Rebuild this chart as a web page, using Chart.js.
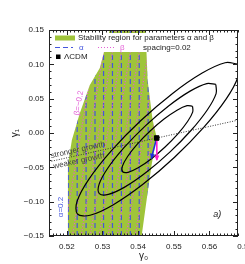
<!DOCTYPE html>
<html>
<head>
<meta charset="utf-8">
<script src="https://cdn.jsdelivr.net/npm/chart.js@4.4.1/dist/chart.umd.min.js"></script>
<style>
  html, body { margin: 0; padding: 0; background: #fff; }
  canvas { display: block; }
</style>
</head>
<body>
<canvas id="chart" width="245" height="264"></canvas>
<script>
// axis ticks
const xTicks = [0.52, 0.53, 0.54, 0.55, 0.56, 0.57];
const yTicks = [-0.15, -0.10, -0.05, 0.00, 0.05, 0.10, 0.15];

// stability region (gamma0, gamma1 outline)
const regionX = [0.53204, 0.54209, 0.54265, 0.54405, 0.54517, 0.54377, 0.54237, 0.54098, 0.52031, 0.52031, 0.52142, 0.52366, 0.52645, 0.52925];
const regionY = [0.15, 0.15, 0.07719, 0.01894, -0.00582, -0.04659, -0.09756, -0.15, -0.15, -0.04659, -0.01019, 0.02913, 0.06991, 0.09466];

// constant-alpha lines (vertical) and constant-beta lines (slanted)
const alphaX = [0.5204, 0.5229, 0.5254, 0.5279, 0.5303, 0.5328, 0.5353, 0.5378, 0.5403, 0.5428, 0.5452];
const betaBottomX = [0.51654, 0.51905, 0.52156, 0.52402, 0.52654, 0.52905, 0.53156, 0.53413, 0.53665, 0.53916, 0.54168];
const betaTopX = [0.52632, 0.52883, 0.53134, 0.53380, 0.53632, 0.53883, 0.54134, 0.54391, 0.54643, 0.54894, 0.55146];
const lineEndsY = [-0.15, 0.15];

// confidence contours
const c1X = [0.55525, 0.55531, 0.55386, 0.55114, 0.54755, 0.54364, 0.54000, 0.53719, 0.53565, 0.53559, 0.53704, 0.53976, 0.54336, 0.54726, 0.55090, 0.55371, 0.55525];
const c1Y = [0.03895, 0.03084, 0.01671, -0.00130, -0.02044, -0.03780, -0.05073, -0.05726, -0.05641, -0.04830, -0.03417, -0.01616, 0.00298, 0.02034, 0.03327, 0.03980, 0.03895];
const c2X = [0.56179, 0.56186, 0.55943, 0.55487, 0.54888, 0.54237, 0.53633, 0.53166, 0.52911, 0.52904, 0.53147, 0.53603, 0.54202, 0.54853, 0.55457, 0.55924, 0.56179];
const c2Y = [0.07072, 0.05734, 0.03390, 0.00398, -0.02789, -0.05684, -0.07846, -0.08946, -0.08818, -0.07480, -0.05136, -0.02144, 0.01043, 0.03938, 0.06100, 0.07200, 0.07072];
const c3X = [0.56791, 0.56802, 0.56470, 0.55845, 0.55021, 0.54125, 0.53294, 0.52652, 0.52299, 0.52288, 0.52620, 0.53245, 0.54069, 0.54965, 0.55796, 0.56438, 0.56791];
const c3Y = [0.10049, 0.08200, 0.04968, 0.00849, -0.03534, -0.07511, -0.10478, -0.11982, -0.11795, -0.09946, -0.06714, -0.02595, 0.01788, 0.05765, 0.08732, 0.10236, 0.10049];

// growth divide, LCDM point and shift arrows
const growthX = [0.515, 0.568];
const growthY = [-0.0419, 0.0187];
const lcdmX = [0.5452];
const lcdmY = [-0.0073];
const arrowAlphaX = [0.5452, 0.5437];
const arrowAlphaY = [-0.0073, -0.0368];
const arrowBetaX = [0.5452, 0.54525];
const arrowBetaY = [-0.0073, -0.0393];

const COLORS = {
  green: '#9fc43a',
  alpha: '#4455dd',
  beta: '#e35fd6',
  arrowAlpha: '#1f2fe0',
  arrowBeta: '#ff22cc',
  text: '#222'
};
const FONT = '"Liberation Sans", "DejaVu Sans", sans-serif';

const pts = (xs, ys) => xs.map((x, i) => ({ x, y: ys[i] }));
const line = (xs, ys, extra) => Object.assign({
  data: pts(xs, ys), showLine: true, pointRadius: 0, fill: false, borderWidth: 1
}, extra);

const datasets = [];
datasets.push(line(regionX, regionY, { fill: 'shape', backgroundColor: COLORS.green, borderWidth: 0, order: 30 }));
alphaX.forEach(x => datasets.push(line([x, x], lineEndsY, {
  borderColor: COLORS.alpha, borderWidth: 1.2, borderDash: [5, 3], clipRegion: true, order: 28
})));
betaBottomX.forEach((x, i) => datasets.push(line([x, betaTopX[i]], lineEndsY, {
  borderColor: COLORS.beta, borderWidth: 1.2, borderDash: [1.2, 1.8], clipRegion: true, order: 27
})));
[[c1X, c1Y], [c2X, c2Y], [c3X, c3Y]].forEach(([xs, ys]) => datasets.push(line(xs, ys, {
  borderColor: '#000', borderWidth: 1.2, tension: 0.35, order: 10
})));
datasets.push(line(growthX, growthY, { borderColor: '#333', borderWidth: 1, borderDash: [1, 1.5], order: 8 }));
datasets.push(line(arrowAlphaX, arrowAlphaY, { borderColor: COLORS.arrowAlpha, borderWidth: 1.5, arrow: true, order: 4 }));
datasets.push(line(arrowBetaX, arrowBetaY, { borderColor: COLORS.arrowBeta, borderWidth: 1.5, arrow: true, order: 3 }));
datasets.push({ data: pts(lcdmX, lcdmY), pointStyle: 'rect', pointRadius: 3.2, backgroundColor: '#000', borderColor: '#000', order: 1 });

// clip alpha/beta lines to the green region, add arrow heads
const regionClip = {
  id: 'regionClip',
  beforeDatasetDraw(chart, args) {
    const ds = chart.data.datasets[args.index];
    if (!ds.clipRegion) return;
    const poly = chart.getDatasetMeta(0).data;
    const ctx = chart.ctx;
    ctx.save();
    ctx.beginPath();
    poly.forEach((p, i) => i ? ctx.lineTo(p.x, p.y) : ctx.moveTo(p.x, p.y));
    ctx.closePath();
    ctx.clip();
  },
  afterDatasetDraw(chart, args) {
    const ds = chart.data.datasets[args.index];
    if (ds.clipRegion) chart.ctx.restore();
    if (ds.arrow) {
      const m = chart.getDatasetMeta(args.index).data;
      const a = m[m.length - 2], b = m[m.length - 1];
      const ang = Math.atan2(b.y - a.y, b.x - a.x);
      const ctx = chart.ctx;
      ctx.save();
      ctx.fillStyle = ds.borderColor;
      ctx.translate(b.x, b.y);
      ctx.rotate(ang);
      ctx.beginPath();
      ctx.moveTo(1, 0);
      ctx.lineTo(-4.5, -2.5);
      ctx.lineTo(-4.5, 2.5);
      ctx.closePath();
      ctx.fill();
      ctx.restore();
    }
  }
};

// text labels in the plot
const notes = {
  id: 'notes',
  afterDatasetsDraw(chart) {
    const { ctx, scales: { x, y } } = chart;
    const put = (txt, gx, gy, rot, color, font) => {
      ctx.save();
      ctx.translate(x.getPixelForValue(gx), y.getPixelForValue(gy));
      ctx.rotate(rot * Math.PI / 180);
      ctx.fillStyle = color;
      ctx.font = font;
      ctx.textAlign = 'center';
      ctx.textBaseline = 'middle';
      ctx.fillText(txt, 0, 0);
      ctx.restore();
    };
    put('α=0.2', 0.51835, -0.1078, -90, COLORS.alpha, '8px ' + FONT);
    put('β=−0.2', 0.5234, 0.0437, -80, COLORS.beta, '8px ' + FONT);
    put('stronger growth', 0.5231, -0.0248, -12.4, '#444', '8px ' + FONT);
    put('weaker growth', 0.5234, -0.0408, -12.4, '#444', '8px ' + FONT);
    put('a)', 0.5622, -0.118, 0, COLORS.text, 'italic 9px ' + FONT);
  }
};

// legend box in the upper left
const legendBox = {
  id: 'legendBox',
  afterDatasetsDraw(chart) {
    const { ctx, chartArea: a } = chart;
    const L = a.left, T = a.top;
    ctx.save();
    ctx.fillStyle = '#fff';
    ctx.fillRect(L + 1, T + 3, 186, 19);
    ctx.font = '8px ' + FONT;
    ctx.textBaseline = 'middle';
    ctx.fillStyle = COLORS.green;
    ctx.fillRect(L + 6, T + 5.5, 20, 5);
    ctx.fillStyle = COLORS.text;
    ctx.fillText('Stability region for parameters α and β', L + 29, T + 8);
    ctx.lineWidth = 1.2;
    ctx.strokeStyle = COLORS.alpha;
    ctx.setLineDash([5, 3]);
    ctx.beginPath(); ctx.moveTo(L + 6, T + 17.5); ctx.lineTo(L + 24, T + 17.5); ctx.stroke();
    ctx.fillStyle = COLORS.alpha;
    ctx.fillText('α', L + 30, T + 17.5);
    ctx.lineWidth = 1;
    ctx.strokeStyle = COLORS.beta;
    ctx.setLineDash([1, 2]);
    ctx.beginPath(); ctx.moveTo(L + 49, T + 17.5); ctx.lineTo(L + 67, T + 17.5); ctx.stroke();
    ctx.setLineDash([]);
    ctx.fillStyle = COLORS.beta;
    ctx.fillText('β', L + 71, T + 17.5);
    ctx.fillStyle = COLORS.text;
    ctx.fillText('spacing=0.02', L + 94, T + 17.5);
    ctx.fillStyle = '#000';
    ctx.fillRect(L + 7, T + 24.5, 4.5, 4.5);
    ctx.fillStyle = COLORS.text;
    ctx.fillText('ΛCDM', L + 15, T + 27);
    ctx.restore();
  }
};

// frame with inward major/minor ticks on all sides
const frame = {
  id: 'frame',
  afterDatasetsDraw(chart) {
    const { ctx, chartArea: a, scales: { x, y } } = chart;
    ctx.save();
    ctx.strokeStyle = '#222';
    ctx.lineWidth = 1;
    ctx.strokeRect(a.left + 0.5, a.top + 0.5, a.right - a.left - 1, a.bottom - a.top - 1);
    ctx.beginPath();
    for (let i = 515; i <= 568; i++) {
      const px = Math.round(x.getPixelForValue(i / 1000)) + 0.5;
      const len = i % 10 === 0 ? 5 : 2.5;
      ctx.moveTo(px, a.bottom); ctx.lineTo(px, a.bottom - len);
      ctx.moveTo(px, a.top); ctx.lineTo(px, a.top + len);
    }
    for (let i = -15; i <= 15; i++) {
      const py = Math.round(y.getPixelForValue(i / 100)) + 0.5;
      const len = i % 5 === 0 ? 5 : 2.5;
      ctx.moveTo(a.left, py); ctx.lineTo(a.left + len, py);
      ctx.moveTo(a.right, py); ctx.lineTo(a.right - len, py);
    }
    ctx.stroke();
    ctx.restore();
  }
};

Chart.defaults.font.family = FONT;
Chart.defaults.color = COLORS.text;

new Chart(document.getElementById('chart'), {
  type: 'scatter',
  data: { datasets },
  options: {
    responsive: false,
    devicePixelRatio: 1,
    animation: false,
    events: [],
    layout: { padding: { top: 30, right: 7, left: 0, bottom: 0 } },
    plugins: { legend: { display: false }, tooltip: { enabled: false } },
    scales: {
      x: {
        type: 'linear', min: 0.515, max: 0.568,
        grid: { display: false, drawTicks: false },
        border: { display: false },
        afterBuildTicks: s => { s.ticks = xTicks.map(value => ({ value })); },
        afterFit: s => { s.height = 28; s.paddingLeft = 0; s.paddingRight = 0; },
        ticks: { autoSkip: false, maxRotation: 0, padding: 6, font: { size: 8 }, callback: v => v.toFixed(2) },
        title: { display: true, text: 'γ₀', font: { size: 10 }, padding: { top: 0, bottom: 2 } }
      },
      y: {
        type: 'linear', min: -0.15, max: 0.15,
        grid: { display: false, drawTicks: false },
        border: { display: false },
        afterBuildTicks: s => { s.ticks = yTicks.map(value => ({ value })); },
        afterFit: s => { s.width = 49; s.paddingTop = 0; s.paddingBottom = 0; },
        ticks: { padding: 5, font: { size: 8 }, callback: v => v.toFixed(2).replace('-', '−') },
        title: { display: true, text: 'γ₁', font: { size: 10 }, padding: { top: 9, bottom: 0 } }
      }
    }
  },
  plugins: [regionClip, notes, legendBox, frame]
});
</script>
</body>
</html>
